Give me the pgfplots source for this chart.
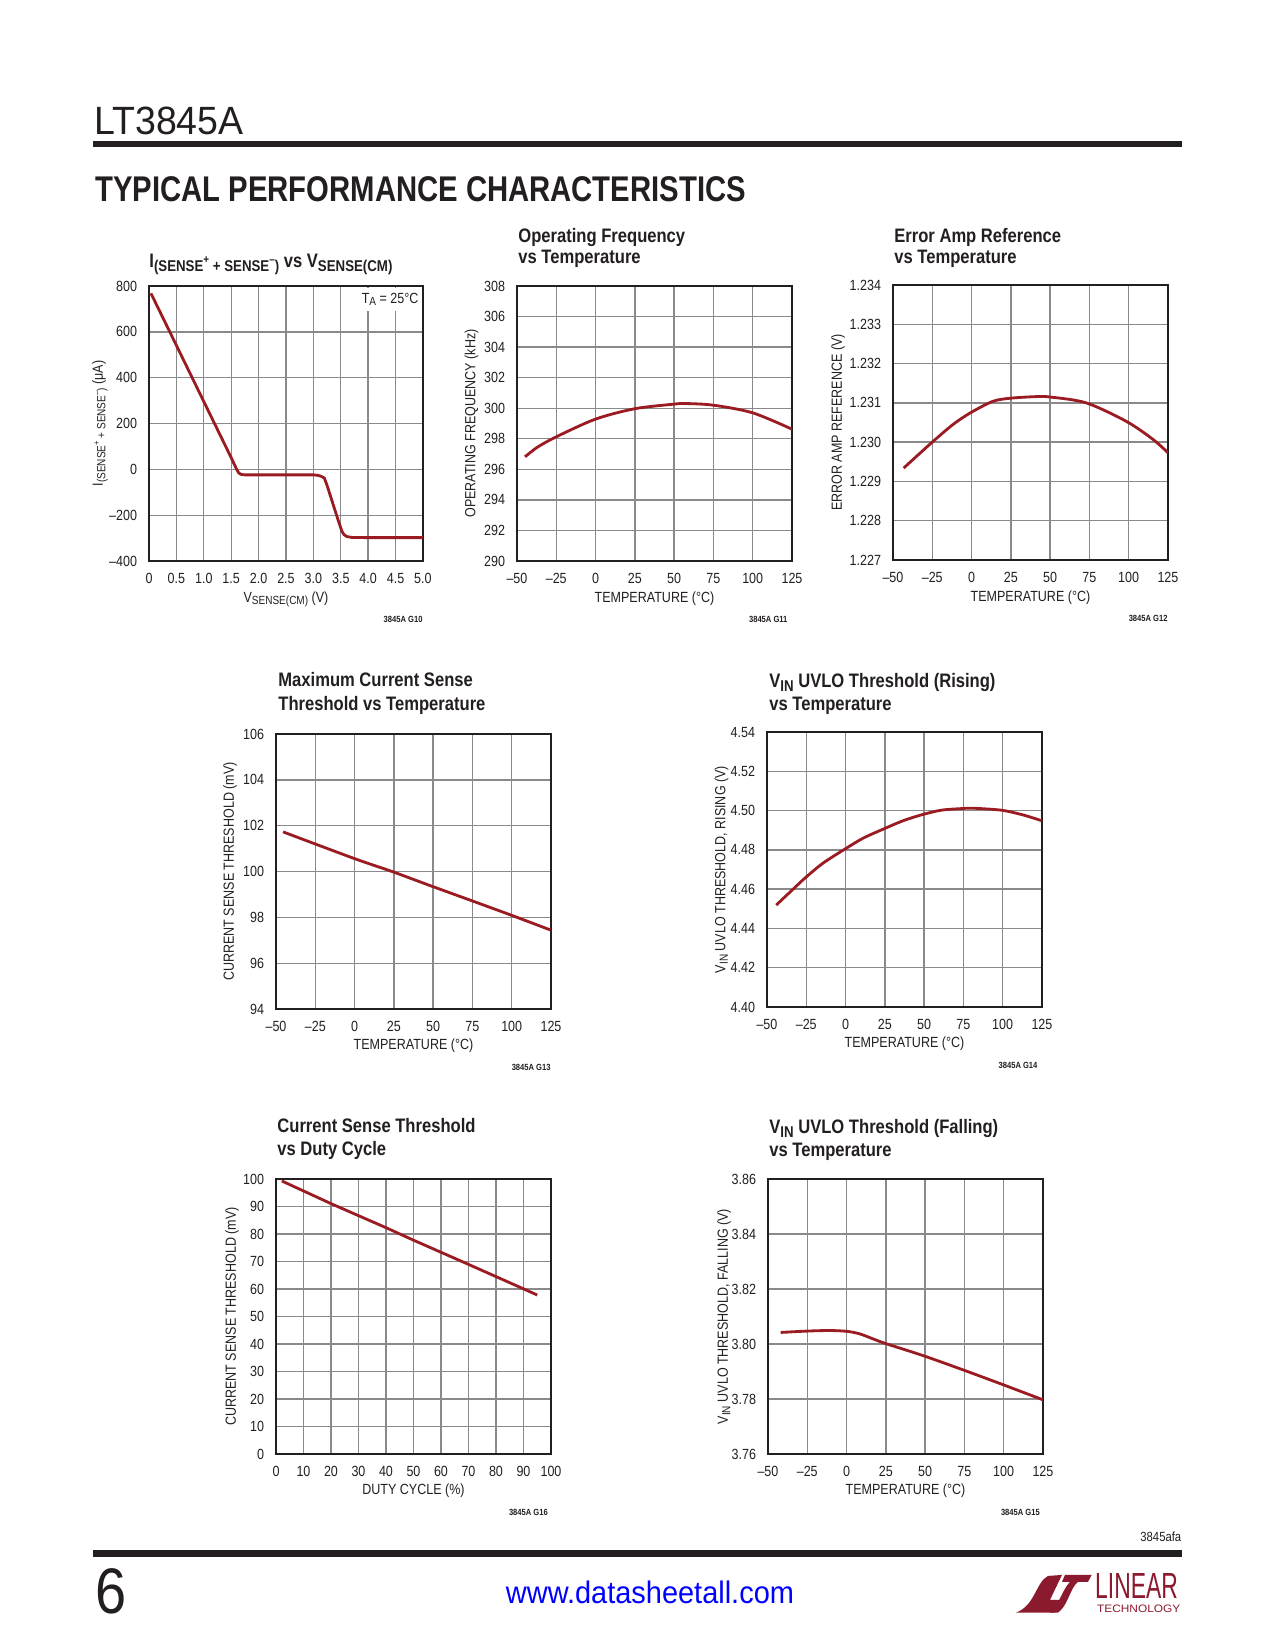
\documentclass[border=0pt]{standalone}
\usepackage{fontspec}
\setmainfont{Liberation Sans}[FakeStretch=0.85]
\newfontfamily\plainsans{Liberation Sans}
\usepackage{graphicx}
\usepackage{pgfplots}
\pgfplotsset{compat=1.18}

\definecolor{curve}{HTML}{9B1B22}
\definecolor{frame}{HTML}{231F20}
\definecolor{gridc}{HTML}{8A8A8A}
\definecolor{logo}{HTML}{8C1A2F}
\definecolor{url}{HTML}{0000FF}

\newcommand{\tk}{\fontsize{7.1}{7.5}\selectfont}
\newcommand{\tl}{\fontsize{9.4}{10}\selectfont\bfseries}
\newcommand{\gid}{\fontsize{4.3}{5}\selectfont\bfseries}
\newcommand{\sbs}[1]{\raisebox{-0.32ex}{\scalebox{0.8}{#1}}}
\newcommand{\sps}[1]{\raisebox{0.9ex}{\scalebox{0.75}{#1}}}

\pgfplotsset{lt/.style={
  scale only axis, width=132bp, height=132bp,
  anchor=south west,
  clip mode=individual,
  axis line style={draw=frame, line width=1bp},
  grid=major, major grid style={draw=gridc, line width=0.65bp},
  major tick length=0pt,
  scaled ticks=false,
  ticklabel style={font=\tk, text=frame},
  /pgf/number format/assume math mode=true,
  xticklabel style={yshift=-2.4bp},
  yticklabel style={xshift=-2.2bp},
  xlabel style={at={(axis description cs:0.5,-0.149)}, anchor=base, font=\tk, text=frame},
  ylabel style={at={(axis description cs:-0.165,0.5)}, anchor=center, font=\tk, text=frame},
  cycle list={{draw=curve, line width=1.35bp, mark=none}},
},
crv/.style={draw=curve, line width=1.35bp, mark=none},
tempx/.style={
  xmin=-50, xmax=125,
  xtick={-50,-25,0,25,50,75,100,125},
  xticklabels={\textendash50,\textendash25,0,25,50,75,100,125},
  xlabel={TEMPERATURE (°C)},
}}

\begin{document}
\begin{tikzpicture}
\fill[white] (0,0) rectangle (612bp,792bp);
\path[use as bounding box] (0,0) rectangle (612bp,792bp);

\begin{scope}[x=0.48bp, y=-0.48bp, shift={(0,792bp)}]
% header
\node[anchor=base west, inner sep=0, text=frame, xscale=0.95] at (94,135) {\plainsans\fontsize{19}{19}\selectfont LT3845A};
\fill[frame] (93.3,140.7) rectangle (1181.7,147.3);
\node[anchor=base west, inner sep=0, text=frame, xscale=0.82] at (95,201.7) {\plainsans\bfseries\fontsize{17.2}{17.2}\selectfont TYPICAL PERFORMANCE CHARACTERISTICS};

% footer
\node[anchor=base east, inner sep=0, text=frame] at (1181.7,1541.7) {\fontsize{6.4}{7}\selectfont 3845afa};
\fill[frame] (93.3,1550) rectangle (1181.7,1556.7);
\node[anchor=base west, inner sep=0, text=frame, xscale=0.87] at (95,1613.3) {\plainsans\fontsize{31}{31}\selectfont 6};
\node[anchor=base, inner sep=0, text=url, xscale=0.93] at (650,1604) {\plainsans\fontsize{15}{15}\selectfont www.datasheetall.com};
\fill[logo] (1016,1612.7) .. controls (1035,1606) and (1036,1582) .. (1048,1576) -- (1062,1575) -- (1050,1600) -- (1060,1600) -- (1055,1612.7) -- cycle;
\fill[logo] (1065,1575) -- (1091.7,1575) -- (1088,1582) -- (1078,1582) .. controls (1070,1588) and (1068,1606) .. (1058,1612.7) -- (1050,1612.7) .. controls (1060,1604) and (1062,1590) .. (1070,1582) -- (1062,1582) -- cycle;
\node[anchor=base west, inner sep=0, text depth=0pt, text=logo, xscale=0.63] at (1095,1598.5) {\plainsans\fontsize{17.5}{18}\selectfont LINEAR};
\node[anchor=base west, inner sep=0, text height=3.8bp, text=logo, xscale=1.1] at (1096.7,1612.7) {\plainsans\fontsize{5.2}{6}\selectfont TECHNOLOGY};

% titles
\node[anchor=base west, inner sep=0, text=frame] at (149,268) {\tl I\sbs{(SENSE\sps{+} + SENSE\sps{–})} vs V\sbs{SENSE(CM)}};
\node[anchor=base west, inner sep=0, text=frame] at (518,243) {\tl Operating Frequency};
\node[anchor=base west, inner sep=0, text=frame] at (518,264) {\tl vs Temperature};
\node[anchor=base west, inner sep=0, text=frame] at (894,243) {\tl Error Amp Reference};
\node[anchor=base west, inner sep=0, text=frame] at (894,264) {\tl vs Temperature};
\node[anchor=base west, inner sep=0, text=frame] at (278,687) {\tl Maximum Current Sense};
\node[anchor=base west, inner sep=0, text=frame] at (278,711) {\tl Threshold vs Temperature};
\node[anchor=base west, inner sep=0, text=frame] at (769,688) {\tl V\sbs{IN} UVLO Threshold (Rising)};
\node[anchor=base west, inner sep=0, text=frame] at (769,711) {\tl vs Temperature};
\node[anchor=base west, inner sep=0, text=frame] at (277,1133) {\tl Current Sense Threshold};
\node[anchor=base west, inner sep=0, text=frame] at (277,1156) {\tl vs Duty Cycle};
\node[anchor=base west, inner sep=0, text=frame] at (769,1134) {\tl V\sbs{IN} UVLO Threshold (Falling)};
\node[anchor=base west, inner sep=0, text=frame] at (769,1157) {\tl vs Temperature};
\end{scope}

% G10
\begin{axis}[lt, at={({149*0.48bp},{1089*0.48bp})}, width=131.5bp,
  xmin=0, xmax=5, ymin=-400, ymax=800,
  xtick={0,0.5,1,1.5,2,2.5,3,3.5,4,4.5,5},
  xticklabels={0,0.5,1.0,1.5,2.0,2.5,3.0,3.5,4.0,4.5,5.0},
  ytick={-400,-200,0,200,400,600,800},
  yticklabels={\textendash400,\textendash200,0,200,400,600,800},
  xlabel={V\sbs{SENSE(CM)} (V)},
  ylabel={I\sbs{(SENSE\sps{+} + SENSE\sps{–})} (μA)},
  ylabel style={at={(axis description cs:-0.179,0.5)}}]
\addplot[crv] coordinates {(0.036,768) (0.5,541) (1.0,296) (1.5,51) (1.60,0) (1.64,-16) (1.68,-22) (1.75,-24) (2.5,-24) (3.0,-24) (3.08,-26) (3.14,-30) (3.2,-38) (3.25,-70) (3.35,-145) (3.45,-220) (3.52,-270) (3.56,-285) (3.61,-293) (3.7,-297) (4.0,-298) (5.0,-298)};
\node[anchor=north, fill=white, inner xsep=1.5bp, inner ysep=2.6bp, font=\tk, text=frame] at (axis description cs:0.88,0.996) {T\sbs{A} = 25°C};
\node[anchor=base east, inner sep=0, font=\gid, text=frame] at (axis description cs:1,-0.225) {3845A G10};
\end{axis}

% G11
\begin{axis}[lt, tempx, at={({517*0.48bp},{1089*0.48bp})},
  ymin=290, ymax=308,
  ytick={290,292,294,296,298,300,302,304,306,308},
  yticklabels={290,292,294,296,298,300,302,304,306,308},
  ylabel={OPERATING FREQUENCY (kHz)}]
\addplot[crv, smooth] coordinates {(-44.9,296.82) (-37,297.45) (-25,298.13) (0,299.29) (25,299.97) (50,300.27) (57,300.31) (75,300.2) (100,299.7) (125,298.63)};
\node[anchor=base east, inner sep=0, font=\gid, text=frame] at (axis description cs:0.985,-0.225) {3845A G11};
\end{axis}

% G12
\begin{axis}[lt, tempx, at={({893*0.48bp},{1090*0.48bp})},
  ymin=1.227, ymax=1.234,
  ytick={1.227,1.228,1.229,1.230,1.231,1.232,1.233,1.234},
  yticklabels={1.227,1.228,1.229,1.230,1.231,1.232,1.233,1.234},
  ylabel={ERROR AMP REFERENCE (V)},
  ylabel style={at={(axis description cs:-0.2,0.5)}}]
\addplot[crv, smooth] coordinates {(-43.2,1.22934) (-25.6,1.22998) (-11.8,1.23045) (-0.6,1.23075) (13.6,1.23104) (25,1.23112) (41.2,1.23116) (50,1.23115) (73,1.2310) (98.5,1.23053) (115.5,1.23007) (125,1.22973)};
\node[anchor=base east, inner sep=0, font=\gid, text=frame] at (axis description cs:1,-0.225) {3845A G12};
\end{axis}

% G13
\begin{axis}[lt, tempx, at={({276*0.48bp},{641*0.48bp})},
  ymin=94, ymax=106,
  ytick={94,96,98,100,102,104,106},
  yticklabels={94,96,98,100,102,104,106},
  ylabel={CURRENT SENSE THRESHOLD (mV)},
  ylabel style={at={(axis description cs:-0.167,0.5)}}]
\addplot[crv, smooth] coordinates {(-45.5,101.73) (-0.3,100.57) (23.9,100.0) (47.9,99.39) (73.6,98.75) (99.1,98.11) (125,97.44)};
\node[anchor=base east, inner sep=0, font=\gid, text=frame] at (axis description cs:1,-0.225) {3845A G13};
\end{axis}

% G14
\begin{axis}[lt, tempx, at={({767*0.48bp},{643*0.48bp})},
  ymin=4.40, ymax=4.54,
  ytick={4.40,4.42,4.44,4.46,4.48,4.50,4.52,4.54},
  yticklabels={4.40,4.42,4.44,4.46,4.48,4.50,4.52,4.54},
  ylabel={V\sbs{IN} UVLO THRESHOLD, RISING (V)}]
\addplot[crv, smooth] coordinates {(-44.1,4.4519) (-33.5,4.4599) (-25.6,4.4658) (-14.4,4.4732) (-0.6,4.4803) (11.1,4.4859) (23.8,4.4905) (36.5,4.4948) (48.2,4.4978) (60.9,4.5002) (73.5,4.5010) (81.1,4.5012) (99.1,4.5002) (112.9,4.4978) (125,4.4948)};
\node[anchor=base east, inner sep=0, font=\gid, text=frame] at (axis description cs:0.985,-0.225) {3845A G14};
\end{axis}

% G16
\begin{axis}[lt, at={({276*0.48bp},{196*0.48bp})},
  xmin=0, xmax=100, ymin=0, ymax=100,
  xtick={0,10,20,30,40,50,60,70,80,90,100},
  xticklabels={0,10,20,30,40,50,60,70,80,90,100},
  ytick={0,10,20,30,40,50,60,70,80,90,100},
  yticklabels={0,10,20,30,40,50,60,70,80,90,100},
  xlabel={DUTY CYCLE (\%)},
  ylabel={CURRENT SENSE THRESHOLD (mV)},
  ylabel style={at={(axis description cs:-0.16,0.5)}}]
\addplot[crv] coordinates {(2.1,99.3) (20.1,91.0) (40,82.3) (49.9,77.8) (69.9,69.0) (89.7,60.2) (95,57.8)};
\node[anchor=base east, inner sep=0, font=\gid, text=frame] at (axis description cs:0.99,-0.225) {3845A G16};
\end{axis}

% G15
\begin{axis}[lt, tempx, at={({768*0.48bp},{196*0.48bp})},
  ymin=3.76, ymax=3.86,
  ytick={3.76,3.78,3.80,3.82,3.84,3.86},
  yticklabels={3.76,3.78,3.80,3.82,3.84,3.86},
  ylabel={V\sbs{IN} UVLO THRESHOLD, FALLING (V)},
  ylabel style={at={(axis description cs:-0.16,0.5)}}]
\addplot[crv, smooth] coordinates {(-41.9,3.8042) (-25,3.8047) (-10.8,3.8049) (0.3,3.8046) (8.3,3.8037) (15.8,3.8021) (24.7,3.8002) (48.6,3.7958) (74.1,3.7906) (99.6,3.7852) (125,3.7797)};
\node[anchor=base east, inner sep=0, font=\gid, text=frame] at (axis description cs:0.99,-0.225) {3845A G15};
\end{axis}
\end{tikzpicture}
\end{document}
